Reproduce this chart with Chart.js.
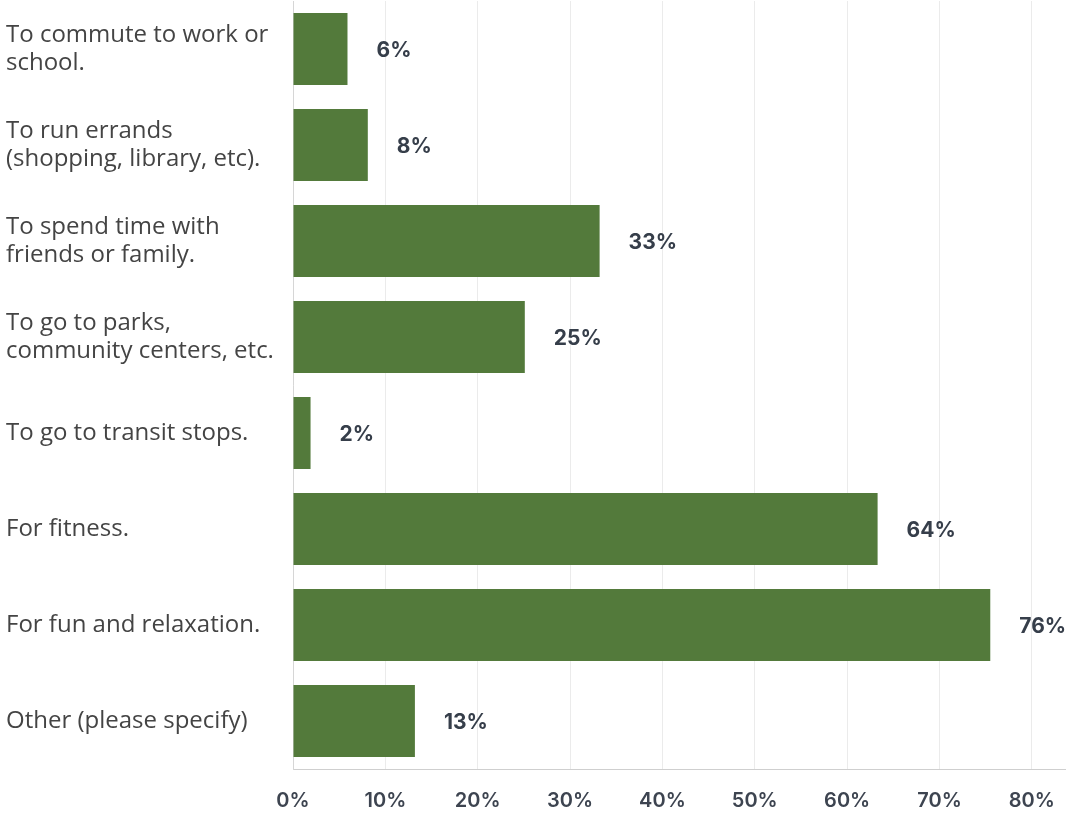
<!DOCTYPE html>
<html>
<head>
<meta charset="utf-8">
<script src="https://cdn.jsdelivr.net/npm/chart.js@4"></script>
<style>
  html, body { margin: 0; padding: 0; background: #fff; }
  #wrap { width: 1066px; height: 813px; }
</style>
</head>
<body>
<div id="wrap"><canvas id="usos" width="1066" height="813"></canvas></div>
<script>
// categorias (multi-linea) y valores
const categorias = [
    ['To commute to work or', 'school.'],
    ['To run errands', '(shopping, library, etc).'],
    ['To spend time with', 'friends or family.'],
    ['To go to parks,', 'community centers, etc.'],
    'To go to transit stops.',
    'For fitness.',
    'For fun and relaxation.',
    'Other (please specify)'
];
const porcentajes = [5.9, 8.1, 33.2, 25.1, 1.9, 63.3, 75.5, 13.2];
const etiquetas = ['6%', '8%', '33%', '25%', '2%', '64%', '76%', '13%'];
const ticksX = [0, 10, 20, 30, 40, 50, 60, 70, 80];

const etiquetasBarras = {
    id: 'etiquetasBarras',
    afterDatasetsDraw(chart) {
        const ctx = chart.ctx;
        const meta = chart.getDatasetMeta(0);
        ctx.save();
        ctx.font = '700 21px Inter, "DejaVu Sans", sans-serif';
        ctx.fillStyle = '#363e4a';
        ctx.textAlign = 'left';
        ctx.textBaseline = 'middle';
        meta.data.forEach((bar, i) => {
            ctx.fillText(etiquetas[i], bar.x + 29, bar.y + 2);
        });
        ctx.restore();
    }
};

const ctx = document.getElementById('usos').getContext('2d');
const grafico = new Chart(ctx, {
    type: 'bar',
    data: {
        labels: categorias,
        datasets: [{
            label: 'Respuestas',
            data: porcentajes,
            backgroundColor: '#537a3b',
            borderWidth: 0,
            categoryPercentage: 0.75,
            barPercentage: 1
        }]
    },
    options: {
        indexAxis: 'y',
        responsive: false,
        animation: false,
        layout: {
            padding: { left: 6, top: 1, right: 0, bottom: 0 }
        },
        scales: {
            x: {
                min: 0,
                max: 83.7,
                afterBuildTicks(scale) {
                    scale.ticks = ticksX.map(v => ({ value: v }));
                },
                afterFit(scale) {
                    scale.height = 44;
                    scale.paddingLeft = 0;
                    scale.paddingRight = 0;
                },
                grid: {
                    color: '#ebebeb',
                    drawTicks: false
                },
                border: { color: '#cfcfcf' },
                ticks: {
                    padding: 20,
                    color: '#3d4450',
                    font: { family: 'Inter, "DejaVu Sans", sans-serif', size: 20, weight: '600' },
                    callback: v => v + '%'
                }
            },
            y: {
                afterFit(scale) {
                    scale.width = 287;
                    scale.paddingTop = 0;
                    scale.paddingBottom = 0;
                },
                grid: { display: false },
                border: { color: '#d6d6d6' },
                ticks: {
                    crossAlign: 'far',
                    color: '#444444',
                    font: { family: '"Open Sans", sans-serif', size: 24, lineHeight: 1.17 }
                }
            }
        },
        plugins: {
            legend: { display: false },
            title: { display: false },
            tooltip: { enabled: false }
        }
    },
    plugins: [etiquetasBarras]
});
</script>
</body>
</html>
